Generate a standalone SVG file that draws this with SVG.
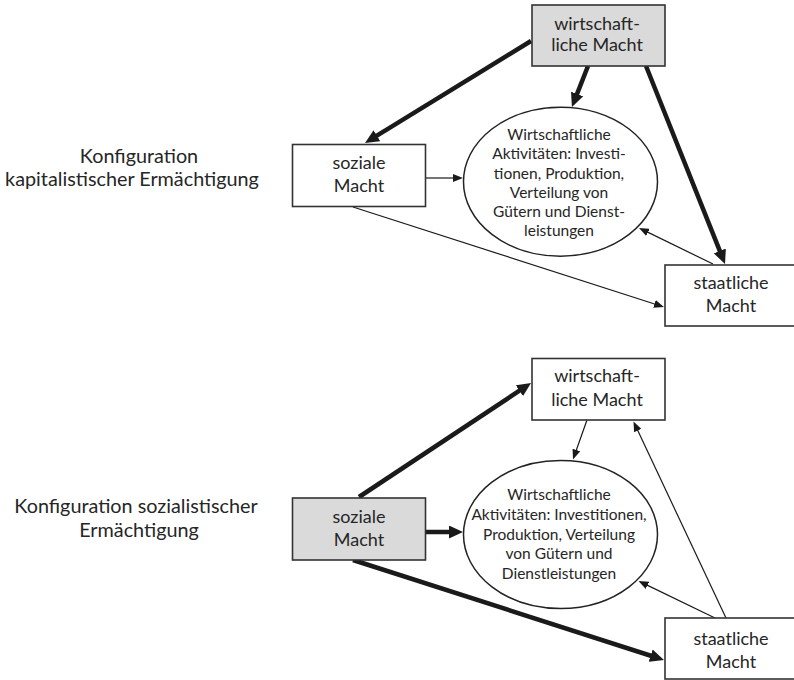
<svg xmlns="http://www.w3.org/2000/svg" width="794" height="680" viewBox="0 0 794 680">
<style>
text{font-family:Lato,"Open Sans","Liberation Sans",sans-serif;fill:#262626;text-anchor:middle}
.box{stroke:#333;stroke-width:1.6;fill:#fff}
.gray{fill:#dadada}
.ell{stroke:#222;stroke-width:1.5;fill:#fff}
.bt{font-size:18px}
.et{font-size:15.5px}
.lab{font-size:19.8px}
.thick{stroke:#1a1a1a;stroke-width:4.5;fill:none;marker-end:url(#ahk)}
.thin{stroke:#1a1a1a;stroke-width:1.2;fill:none;marker-end:url(#aht)}
</style>
<defs>
<marker id="ahk" markerUnits="userSpaceOnUse" markerWidth="14" markerHeight="13" refX="1" refY="6.5" orient="auto"><path d="M0,0 L14,6.5 L0,13 z" fill="#1a1a1a"/></marker>
<marker id="aht" markerUnits="userSpaceOnUse" markerWidth="10" markerHeight="8" refX="1" refY="4" orient="auto"><path d="M0,0 L10,4 L0,8 z" fill="#1a1a1a"/></marker>
</defs>
<g id="labels">
<text class="lab" x="139" y="163">Konfiguration</text>
<text class="lab" x="132" y="186">kapitalistischer Ermächtigung</text>
<text class="lab" x="136" y="513">Konfiguration sozialistischer</text>
<text class="lab" x="139" y="537">Ermächtigung</text>
</g>
<g id="connectors">
<line class="thick" x1="531" y1="41" x2="376.1" y2="136.2"/>
<line class="thick" x1="588" y1="66" x2="576.7" y2="94.9"/>
<line class="thick" x1="646" y1="66" x2="720.2" y2="251.9"/>
<line class="thin" x1="426" y1="178" x2="454" y2="178"/>
<line class="thin" x1="353" y1="207" x2="655.4" y2="304.2"/>
<line class="thin" x1="713" y1="264" x2="647.1" y2="231.9"/>
<line class="thick" x1="359" y1="497" x2="520.2" y2="390.2"/>
<line class="thin" x1="587" y1="420" x2="576" y2="451"/>
<line class="thick" x1="426" y1="532" x2="450" y2="532"/>
<line class="thick" x1="353" y1="560" x2="651.6" y2="656"/>
<line class="thin" x1="726" y1="618" x2="637.3" y2="429.6"/>
<line class="thin" x1="715" y1="618" x2="646.6" y2="584.9"/>
</g>
<g id="top-wirtschaft">
<rect class="box gray" x="532" y="5" width="133" height="61"/>
<text class="bt" x="597" y="30">wirtschaft-</text>
<text class="bt" x="597" y="51">liche Macht</text>
</g>
<g id="top-sozial">
<rect class="box" x="292.5" y="144.5" width="133" height="62"/>
<text class="bt" x="359" y="169">soziale</text>
<text class="bt" x="359" y="192">Macht</text>
</g>
<g id="top-aktivitaeten">
<ellipse class="ell" cx="560.5" cy="181.7" rx="97" ry="74.5"/>
<text class="et" x="559" y="139.5">Wirtschaftliche</text>
<text class="et" x="559" y="159">Aktivitäten: Investi-</text>
<text class="et" x="559" y="178.5">tionen, Produktion,</text>
<text class="et" x="559" y="198">Verteilung von</text>
<text class="et" x="559" y="217">Gütern und Dienst-</text>
<text class="et" x="559" y="235.5">leistungen</text>
</g>
<g id="top-staat">
<rect class="box" x="665" y="265" width="135" height="61"/>
<text class="bt" x="731" y="289">staatliche</text>
<text class="bt" x="731" y="312">Macht</text>
</g>
<g id="bottom-wirtschaft">
<rect class="box" x="532" y="358.5" width="133" height="61.5"/>
<text class="bt" x="597" y="382">wirtschaft-</text>
<text class="bt" x="597" y="406">liche Macht</text>
</g>
<g id="bottom-sozial">
<rect class="box gray" x="292.5" y="498" width="133" height="62"/>
<text class="bt" x="359" y="523">soziale</text>
<text class="bt" x="359" y="546">Macht</text>
</g>
<g id="bottom-aktivitaeten">
<ellipse class="ell" cx="560.5" cy="534.5" rx="97" ry="74"/>
<text class="et" x="559" y="499.5">Wirtschaftliche</text>
<text class="et" x="559" y="519.5">Aktivitäten: Investitionen,</text>
<text class="et" x="559" y="539.5">Produktion, Verteilung</text>
<text class="et" x="559" y="559">von Gütern und</text>
<text class="et" x="559" y="578.5">Dienstleistungen</text>
</g>
<g id="bottom-staat">
<rect class="box" x="665" y="618" width="135" height="61"/>
<text class="bt" x="731" y="645">staatliche</text>
<text class="bt" x="731" y="668">Macht</text>
</g>
</svg>
